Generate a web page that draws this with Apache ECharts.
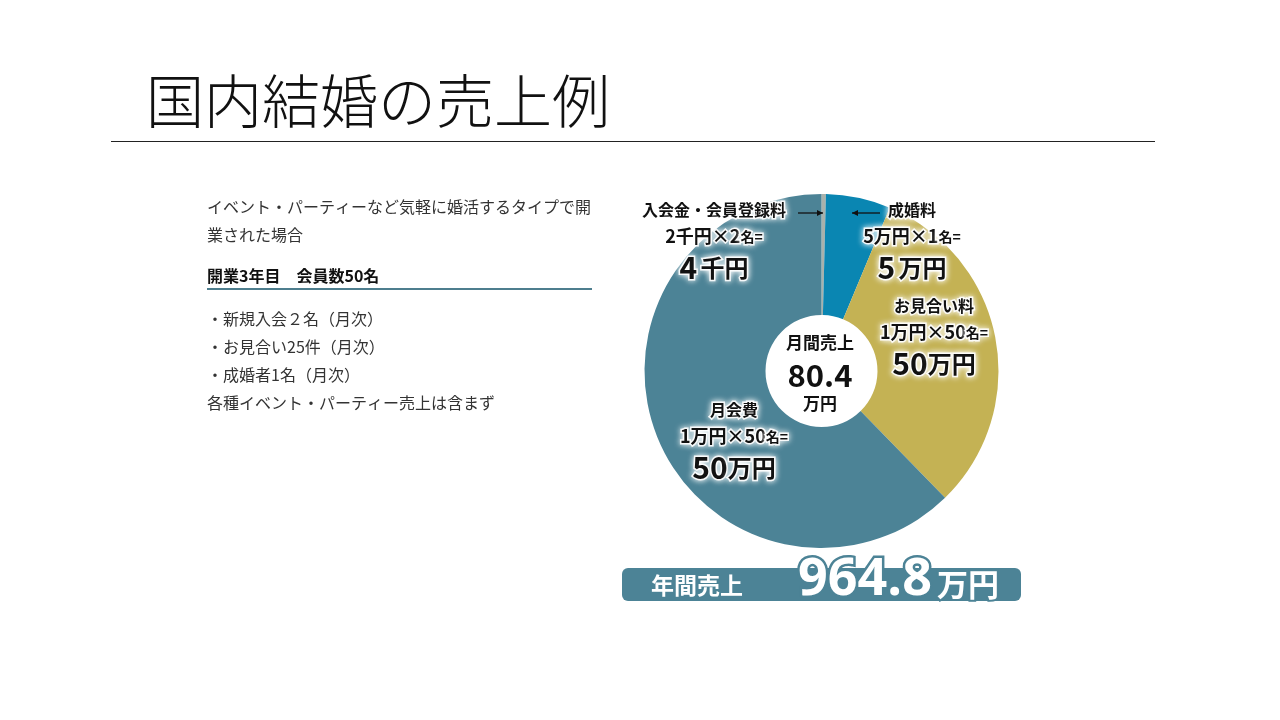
<!DOCTYPE html>
<html>
<head>
<meta charset="utf-8">
<script src="https://cdn.jsdelivr.net/npm/echarts@6/dist/echarts.min.js"></script>
<style>
html,body{margin:0;padding:0;background:#fff;}
#chart{width:1280px;height:720px;}
</style>
</head>
<body>
<div id="chart"></div>
<script>
// ---- data ----
const categories = ['入会金・会員登録料', '成婚料', 'お見合い料', '月会費'];
const sliceShare = [0.4, 5.9, 31.4, 62.3];            // share of the circle as drawn (%)
const unitPrice = ['2千円', '5万円', '1万円', '1万円'];
const headcount = ['2', '1', '50', '50'];
const amountNum = ['4', '5', '50', '50'];
const amountUnit = ['千円', '万円', '万円', '万円'];
const monthlyTotal = '80.4';
const yearlyTotal = '964.8';
const introLines = ['イベント・パーティーなど気軽に婚活するタイプで開', '業された場合'];
const conditionLine = '開業3年目　会員数50名';
const bulletLines = ['・新規入会２名（月次）', '・お見合い25件（月次）', '・成婚者1名（月次）', '各種イベント・パーティー売上は含まず'];

// ---- styles ----
const colors = ['#A9B1AB', '#0A86B2', '#C4B254', '#4C8396'];
const teal = '#4C8396';
const labelAnchor = [[714, 241], [912, 241], [934, 337], [734, 441]];
const FONT = '"Noto Sans CJK JP", "Noto Sans", sans-serif';
const glow = { textBorderColor: 'rgba(255,255,255,0.9)', textBorderWidth: 3, textShadowColor: '#fff', textShadowBlur: 6 };

function mk(o) { return Object.assign({ fontFamily: FONT, fontWeight: 'bold', color: '#111' }, glow, o); }

const chart = echarts.init(document.getElementById('chart'));

const graphics = [];
function txt(x, y, text, opt) {
  graphics.push({
    type: 'text', silent: true, z: 50,
    style: Object.assign({
      x: x, y: y, text: text, fill: '#333',
      fontFamily: FONT, fontSize: 16,
      textAlign: 'left', textVerticalAlign: 'middle', align: 'left', verticalAlign: 'middle'
    }, opt || {})
  });
}
// title
txt(146, 101, '国内結婚の売上例', { fontSize: 58, fontWeight: 200, fill: '#111' });
graphics.push({ type: 'line', silent: true, shape: { x1: 111, y1: 141.5, x2: 1155, y2: 141.5 }, style: { stroke: '#222', lineWidth: 1 } });
// left text
introLines.forEach((t, i) => txt(207, 207 + i * 28, t));
txt(207, 276, conditionLine, { fontSize: 16, fontWeight: 'bold', fill: '#111' });
graphics.push({ type: 'line', silent: true, shape: { x1: 207, y1: 289, x2: 592, y2: 289 }, style: { stroke: '#4E7E8E', lineWidth: 2 } });
bulletLines.forEach((t, i) => txt(207, 319 + i * 28, t));

// arrows
function arrow(x1, x2, y) {
  graphics.push({ type: 'line', silent: true, z: 60, shape: { x1: x1, y1: y, x2: x2, y2: y }, style: { stroke: '#111', lineWidth: 1.3 } });
  const d = x2 > x1 ? 1 : -1;
  graphics.push({ type: 'polygon', silent: true, z: 60, shape: { points: [[x2, y], [x2 - d * 6, y - 3], [x2 - d * 6, y + 3]] }, style: { fill: '#111' } });
}
arrow(798, 823, 213);
arrow(880, 852, 213);

// centre circle text
txt(820, 343, '月間売上', { fontSize: 17, fontWeight: 'bold', fill: '#111', textAlign: 'center', align: 'center' });
txt(820, 375, monthlyTotal, { fontSize: 31, fontWeight: 'bold', fill: '#111', textAlign: 'center', align: 'center' });
txt(820, 404, '万円', { fontSize: 17, fontWeight: 'bold', fill: '#111', textAlign: 'center', align: 'center' });

// yearly banner
graphics.push({ type: 'rect', silent: true, z: 40, shape: { x: 622, y: 568, width: 399, height: 33, r: 6 }, style: { fill: teal } });
txt(697, 585, '年間売上', { fontSize: 23, fontWeight: 'bold', fill: '#fff', textAlign: 'center', align: 'center' });
txt(865, 580, yearlyTotal, { fontSize: 52, fontWeight: 'bold', fontFamily: '"Open Sans", "Noto Sans", sans-serif', fill: '#fff', stroke: teal, lineWidth: 5, textAlign: 'center', align: 'center' });
txt(968, 584, '万円', { fontSize: 31, fontWeight: 'bold', fill: '#fff', stroke: teal, lineWidth: 4, textAlign: 'center', align: 'center' });

const pieData = categories.map((c, i) => ({
  name: c,
  value: sliceShare[i],
  itemStyle: { color: colors[i] },
  label: {
    formatter: [
      '{name|' + c + '}',
      '{calc|' + unitPrice[i] + '×' + headcount[i] + '}{small|名=}',
      '{big|' + amountNum[i] + '}' + (i < 2 ? '{sp| }' : '') + '{unit|' + amountUnit[i] + '}'
    ].join('\n')
  }
}));

chart.setOption({
  animation: false,
  backgroundColor: '#fff',
  series: [{
    type: 'pie',
    center: [821.5, 371],
    radius: [56, 177],
    startAngle: 90,
    clockwise: true,
    avoidLabelOverlap: false,
    silent: true,
    itemStyle: { borderWidth: 0 },
    labelLine: { show: false },
    label: {
      show: true,
      position: 'inside',
      align: 'center',
      rich: {
        name: mk({ fontSize: 16, lineHeight: 27 }),
        calc: mk({ fontSize: 18, lineHeight: 27 }),
        small: mk({ fontSize: 14, lineHeight: 27 }),
        big: mk({ fontSize: 30, lineHeight: 36 }),
        sp: mk({ fontSize: 14, lineHeight: 36 }),
        unit: mk({ fontSize: 24, lineHeight: 36 })
      }
    },
    labelLayout: function (p) {
      const a = labelAnchor[p.dataIndex];
      return { x: a[0], y: a[1], align: 'center', verticalAlign: 'middle' };
    },
    data: pieData
  }],
  graphic: graphics
});
</script>
</body>
</html>
